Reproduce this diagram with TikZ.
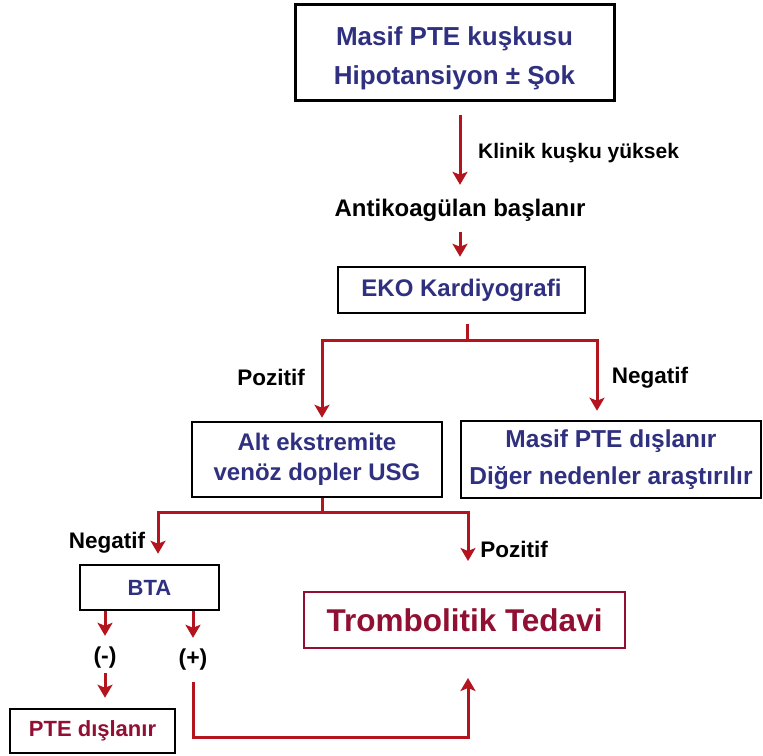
\documentclass[tikz,border=0pt]{standalone}
\usepackage{fontspec}
\setmainfont{Liberation Sans}
\usetikzlibrary{arrows.meta}
\definecolor{navytxt}{RGB}{48,48,128}
\definecolor{flowred}{RGB}{180,20,30}
\definecolor{crimsontxt}{RGB}{145,15,50}

\begin{document}
\begin{tikzpicture}[x=1pt,y=-1pt,
  box/.style={draw=black, line width=2.5pt, fill=white, text=navytxt, align=center, inner sep=0pt},
  lbl/.style={inner sep=0pt, text=black, text height=16pt, text depth=4.5pt},
  arr/.style={draw=flowred, line width=3pt, -{Stealth[length=13pt,width=15pt,inset=3pt]}},
  link/.style={draw=flowred, line width=3pt},
]
\fill[white] (0,0) rectangle (763,755);
\useasboundingbox (0,0) rectangle (763,755);

% boxes
\node[box, line width=3pt, minimum width=319pt, minimum height=96pt] (top) at (454.5,52) {};
\node[align=center, inner sep=0pt, text=navytxt,
  font=\bfseries\fontsize{26}{39}\selectfont] (toptext) at (454.5,58)
  {Masif PTE kuşkusu\\Hipotansiyon ± Şok};
\node[box, minimum width=247pt, minimum height=46pt,
  font=\bfseries\fontsize{24}{28}\selectfont] (eko) at (461.5,290) {EKO Kardiyografi};
\node[box, minimum width=250pt, minimum height=75pt,
  font=\bfseries\fontsize{24}{30}\selectfont] (alt) at (317,459.5)
  {Alt ekstremite\\venöz dopler USG};
\node[box, minimum width=300pt, minimum height=77pt,
  font=\bfseries\fontsize{24.5}{37}\selectfont] (masif) at (611,459.5)
  {Masif PTE dışlanır\\Diğer nedenler araştırılır};
\node[box, minimum width=139pt, minimum height=45pt,
  font=\bfseries\fontsize{22}{26}\selectfont] (bta) at (149.5,587.5) {BTA};
\node[box, draw=crimsontxt, line width=2pt, text=crimsontxt, minimum width=321pt, minimum height=56pt,
  font=\bfseries\fontsize{31.5}{36}\selectfont] (trom) at (464.5,620) {Trombolitik Tedavi};
\node[box, text=crimsontxt, minimum width=165pt, minimum height=44pt,
  font=\bfseries\fontsize{22}{26}\selectfont] (pte) at (92.5,731) {PTE dışlanır};

% plain text steps and labels
\node[lbl, anchor=west, font=\bfseries\fontsize{21}{25}\selectfont] (klin) at (478,153) {Klinik kuşku yüksek};
\node[lbl, font=\bfseries\fontsize{24}{28}\selectfont, text height=17pt, text depth=5pt] (anti) at (460,210) {Antikoagülan başlanır};
\node[lbl, font=\bfseries\fontsize{22.5}{26}\selectfont] (pos1) at (271,380) {Pozitif};
\node[lbl, font=\bfseries\fontsize{22.5}{26}\selectfont] (neg1) at (650,378) {Negatif};
\node[lbl, font=\bfseries\fontsize{22.5}{26}\selectfont] (neg2) at (107,543) {Negatif};
\node[lbl, font=\bfseries\fontsize{22.5}{26}\selectfont] (pos2) at (514,552) {Pozitif};
\node[lbl, font=\bfseries\fontsize{23}{27}\selectfont, text height=17pt, text depth=5pt] (minus) at (105,657) {(-)};
\node[lbl, font=\bfseries\fontsize{23}{27}\selectfont, text height=17pt, text depth=5pt] (plus) at (193,659) {(+)};

% junction points
\coordinate (j1) at (467,340);
\coordinate (j2) at (322,512);
\coordinate (low) at (330,737);

% connectors
\draw[arr, shorten <=13pt, shorten >=14pt] (anti.north |- top.south) -- (anti.north);
\draw[arr, shorten <=11pt, shorten >=9pt] (anti.south) -- (anti.south |- eko.north);
\draw[link, shorten <=10pt] ([xshift=5.5pt]eko.south) -- (j1);
\draw[arr, shorten >=3pt] (j1) -| ([xshift=5pt]alt.north);
\draw[arr, shorten >=9pt] (j1) -| ([xshift=-14pt]masif.north);
\draw[link] ([xshift=5pt]alt.south) -- (j2);
\draw[arr, shorten >=10pt] (j2) -| ([xshift=8.5pt]bta.north);
\draw[arr, shorten >=30pt] (j2) -| ([xshift=3.5pt]trom.north);
\draw[arr, shorten >=10pt] ([xshift=-44.5pt]bta.south) -- (minus.north);
\draw[arr, shorten >=10pt] ([xshift=43.5pt]bta.south) -- (plus.north);
\draw[arr, shorten <=5pt, shorten >=10pt] (minus.south) -- (minus.south |- pte.north);
\draw[arr, shorten <=12pt, shorten >=29pt] (plus.south) |- (low) -| ([xshift=3.5pt]trom.south);
\end{tikzpicture}
\end{document}
